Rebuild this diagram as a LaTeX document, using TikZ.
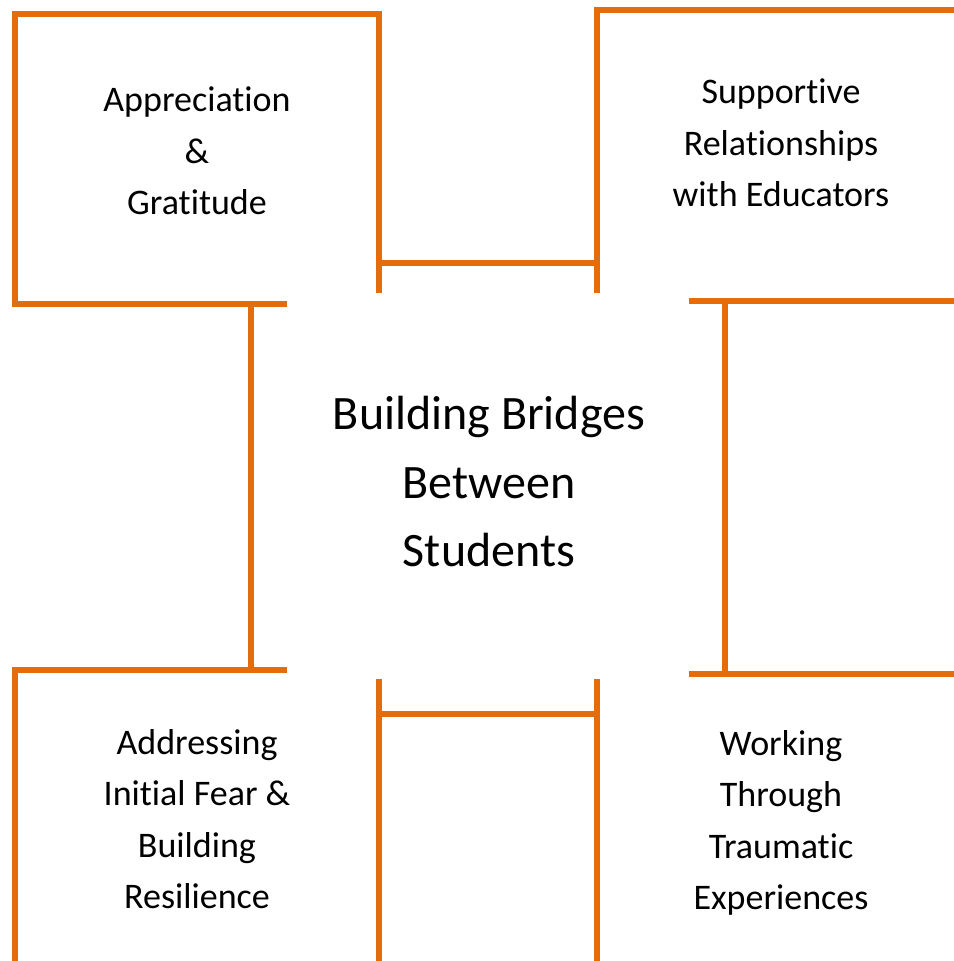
\documentclass[tikz,border=0pt]{standalone}
\usepackage{fontspec}
\setmainfont{Carlito}[Ligatures=NoCommon]
\definecolor{accentorange}{RGB}{228,108,10}
\tikzset{
  frame/.style={draw=accentorange, line width=6.5pt, line join=miter},
  smalltext/.style={align=center, inner sep=0pt, font=\fontsize{36}{51.5}\selectfont},
  bigtext/.style={align=center, inner sep=0pt, font=\fontsize{48}{68.5}\selectfont}
}
\begin{document}
\begin{tikzpicture}[x=1pt,y=-1pt]
\useasboundingbox[fill=white] (0,0) rectangle (953,961);
% text nodes
\node[smalltext] (appr) at (197,151) {Appreciation\\\&\\Gratitude};
\node[smalltext] (supp) at (781,143) {Supportive\\Relationships\\with Educators};
\node[smalltext] (addr) at (197,819) {Addressing\\Initial Fear \&\\Building\\Resilience};
\node[smalltext] (work) at (781,823) {Working\\Through\\Traumatic\\Experiences};
\node[bigtext] (center) at (489,482) {Building Bridges\\Between\\Students};
% coordinates of frames
\coordinate (tlA) at (287,304);
\coordinate (tlB) at (15,304);
\coordinate (tlC) at (15,14);
\coordinate (tlD) at (379,14);
\coordinate (tlE) at (379,293);
\coordinate (tlJ) at (379,263);
\coordinate (tlS) at (251,304);
\coordinate (trA) at (597,293);
\coordinate (trB) at (597,10);
\coordinate (trC) at (970,10);
\coordinate (trJ) at (597,263);
\coordinate (trD) at (689,301);
\coordinate (trE) at (970,301);
\coordinate (trS) at (725,301);
\coordinate (blA) at (287,670);
\coordinate (blB) at (15,670);
\coordinate (blC) at (15,975);
\coordinate (blS) at (251,670);
\coordinate (blD) at (379,679);
\coordinate (blE) at (379,975);
\coordinate (blJ) at (379,714);
\coordinate (brJ) at (597,714);
\coordinate (brA) at (597,679);
\coordinate (brB) at (597,975);
\coordinate (brC) at (689,674);
\coordinate (brD) at (970,674);
\coordinate (brS) at (725,674);
% frames
\draw[frame] (tlA) -- (tlB) -- (tlC) -- (tlD) -- (tlE);
\draw[frame] (tlJ) -- (trJ);
\draw[frame] (tlS) -- (blS);
\draw[frame] (trA) -- (trB) -- (trC);
\draw[frame] (trD) -- (trE);
\draw[frame] (trS) -- (brS);
\draw[frame] (blA) -- (blB) -- (blC);
\draw[frame] (blD) -- (blE);
\draw[frame] (blJ) -- (brJ);
\draw[frame] (brA) -- (brB);
\draw[frame] (brC) -- (brD);
\end{tikzpicture}
\end{document}
